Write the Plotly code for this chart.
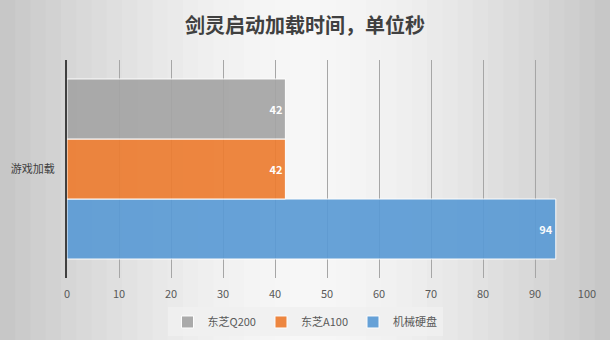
import plotly.graph_objects as go

categories = ["游戏加载"]
series_names = ["东芝Q200", "东芝A100", "机械硬盘"]
series_values = [[42], [42], [94]]
series_colors = ["#a5a5a5", "#ed7d31", "#5b9bd5"]
x_ticks = [0, 10, 20, 30, 40, 50, 60, 70, 80, 90, 100]

FONT = "Noto Sans CJK SC, Microsoft YaHei, sans-serif"

fig = go.Figure()
# add in reverse so first series is drawn on top
for name, vals, col in reversed(list(zip(series_names, series_values, series_colors))):
    fig.add_trace(go.Bar(
        y=categories, x=vals, name=name, orientation="h",
        marker=dict(color=col, line=dict(color="#ffffff", width=1)), opacity=0.92,
        text=[str(v) for v in vals], textposition="inside", insidetextanchor="end",
        textfont=dict(color="#ffffff", size=11, family=FONT),
        texttemplate="<b>%{text}</b>",
    ))

# horizontal gradient background approximated by bands (figure spans 610px, plot area 67..587)
W = 610
L, R = 67, 587
n = 40
shapes = []
for i in range(n):
    x0px = W * i / n
    x1px = W * (i + 1) / n
    c = (x0px + x1px) / 2 / W
    d = abs(c - 0.5) * 2  # 0 center, 1 edges
    g = int(round(247 - 50 * d ** 1.6))
    col = f"rgb({g},{g},{g})"
    shapes.append(dict(type="rect", xref="paper", yref="paper",
                       x0=(x0px - L) / (R - L), x1=(x1px + 1 - L) / (R - L),
                       y0=-0.3, y1=1.3, fillcolor=col, line=dict(width=0), layer="below"))

fig.update_layout(
    width=610, height=340,
    margin=dict(l=67, r=23, t=60, b=62, autoexpand=False),
    paper_bgcolor="#dcdcdc", plot_bgcolor="rgba(0,0,0,0)",
    shapes=shapes,
    barmode="group", bargap=0.174, bargroupgap=0,
    title=dict(text="<b>剑灵启动加载时间，单位秒</b>", x=0.5, xanchor="center", y=0.925, yanchor="middle",
               font=dict(family=FONT, size=20, color="#404040")),
    font=dict(family=FONT, size=11, color="#595959"),
    legend=dict(orientation="h", traceorder="reversed", x=0.5, xanchor="center", xref="container",
                y=0.053, yanchor="middle", yref="container", bgcolor="rgba(240,240,240,0.85)",
                font=dict(size=11, color="#595959", family=FONT), itemwidth=30,
                tracegroupgap=0),
    showlegend=True,
)
fig.update_xaxes(range=[0, 100], tickvals=x_ticks, showgrid=True, gridcolor="#a6a6a6", gridwidth=1,
                 zeroline=False, showline=False, ticks="", tickfont=dict(size=11, color="#595959"),
                 ticklabelstandoff=8, fixedrange=True)
fig.update_yaxes(showline=True, linecolor="#404040", linewidth=2, ticks="", showgrid=False,
                 tickfont=dict(size=11, color="#404040"), ticklabelstandoff=8)

fig.write_html("out.html")
